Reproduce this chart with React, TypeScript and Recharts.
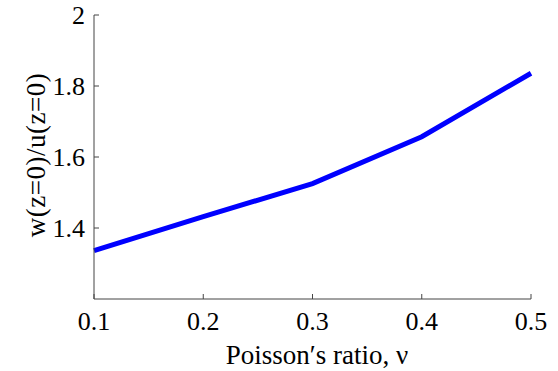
import { LineChart, Line, XAxis, YAxis } from "recharts";

const poisson = [0.1, 0.2, 0.3, 0.4, 0.5];
const ratio = [1.336, 1.432, 1.525, 1.657, 1.836];
const xTicks = [0.1, 0.2, 0.3, 0.4, 0.5];
const yTicks = [1.4, 1.6, 1.8, 2];

const FONT = "'Times New Roman', 'Liberation Serif', 'DejaVu Serif', serif";
const AXIS = "#444";

function YLabel() {
  return (
    <text x={45} y={155} transform="rotate(-90, 45, 155)" textAnchor="middle" style={{ fontFamily: FONT, fontSize: 27, letterSpacing: 0.5 }} fill="#000">
      w(z=0)/u(z=0)
    </text>
  );
}

function XLabel() {
  return (
    <text x={317} y={364} textAnchor="middle" style={{ fontFamily: FONT, fontSize: 27 }} fill="#000">
      Poisson′s ratio, ν
    </text>
  );
}

export default function App() {
  const rows = poisson.map((x, i) => ({ x, y: ratio[i] }));
  const tickStyle = { fill: "#000", fontFamily: FONT, fontSize: 26, style: { fontFamily: FONT, fontSize: 26 } };
  return (
    <div style={{ position: "absolute", left: 0, top: 0, background: "#fff", fontFamily: FONT }}>
      <LineChart width={558} height={371} data={rows} margin={{ top: 15, right: 27, bottom: 0, left: 0 }}>
        <XAxis
          dataKey="x"
          type="number"
          domain={[0.1, 0.5]}
          ticks={xTicks}
          height={72}
          tick={tickStyle}
          tickSize={-5}
          tickMargin={18}
          stroke={AXIS}
          tickFormatter={(v: number) => v.toFixed(1)}
          label={<XLabel />}
        />
        <XAxis xAxisId="top" orientation="top" dataKey="x" type="number" domain={[0.1, 0.5]} ticks={xTicks} height={0} tick={false} tickSize={-5} stroke={AXIS} />
        <YAxis
          type="number"
          domain={[1.2, 2]}
          ticks={yTicks}
          width={94}
          tick={tickStyle}
          tickSize={-5}
          tickMargin={14}
          stroke={AXIS}
          tickFormatter={(v: number) => (v === 2 ? "2" : v.toFixed(1))}
          label={<YLabel />}
        />
        <YAxis yAxisId="right" orientation="right" type="number" domain={[1.2, 2]} ticks={yTicks} width={0} tick={false} tickSize={-5} stroke={AXIS} />
        <Line type="linear" dataKey="y" stroke="#0000ff" strokeWidth={5} dot={false} isAnimationActive={false} />
      </LineChart>
    </div>
  );
}
